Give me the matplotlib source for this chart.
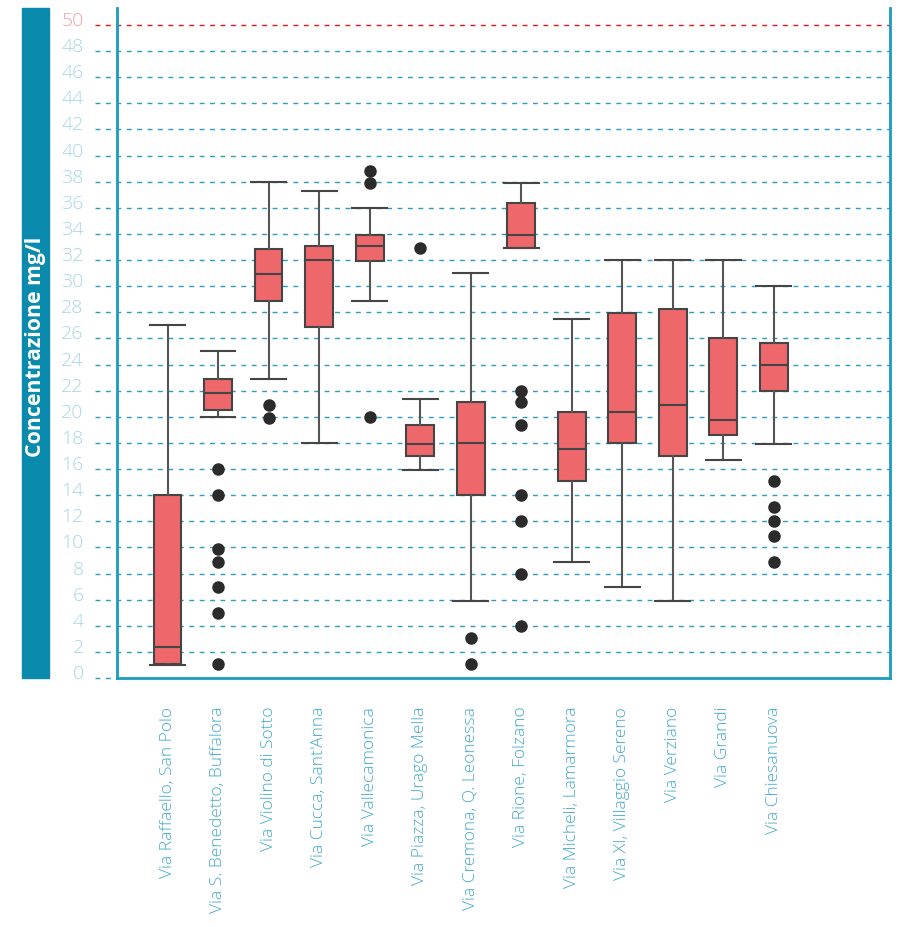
import matplotlib
matplotlib.use("Agg")
import matplotlib.pyplot as plt
from matplotlib.patches import Rectangle

plt.rcParams['font.family'] = ['Open Sans', 'DejaVu Sans']

streets = [
    "Via Raffaello, San Polo",
    "Via S. Benedetto, Buffalora",
    "Via Violino di Sotto",
    "Via Cucca, Sant'Anna",
    "Via Vallecamonica",
    "Via Piazza, Urago Mella",
    "Via Cremona, Q. Leonessa",
    "Via Rione, Folzano",
    "Via Micheli, Lamarmora",
    "Via XI, Villaggio Sereno",
    "Via Verziano",
    "Via Grandi",
    "Via Chiesanuova",
]

# box statistics, mg/l
whisker_low = [1.0, 20.0, 22.9, 18.0, 28.9, 15.9, 5.9, 32.9, 8.9, 7.0, 5.9, 16.7, 17.9]
q1 = [1.05, 20.5, 28.9, 26.9, 31.95, 17.0, 14.0, 32.9, 15.05, 18.0, 17.0, 18.6, 21.95]
median = [2.4, 21.8, 30.9, 32.0, 33.05, 17.9, 18.0, 33.95, 17.5, 20.4, 20.9, 19.75, 23.95]
q3 = [14.0, 22.9, 32.85, 33.05, 33.95, 19.35, 21.1, 36.4, 20.4, 27.95, 28.25, 26.0, 25.65]
whisker_high = [27.0, 25.0, 38.0, 37.3, 36.0, 21.4, 31.0, 37.9, 27.5, 32.0, 32.0, 32.0, 30.0]
outliers = [
    [],
    [16.0, 14.0, 9.9, 8.9, 7.0, 5.0, 1.05],
    [20.9, 19.9],
    [],
    [38.8, 37.9, 20.0],
    [32.9],
    [3.1, 1.05],
    [22.0, 21.1, 19.35, 14.0, 12.0, 8.0, 4.0],
    [],
    [],
    [],
    [],
    [15.1, 13.1, 12.0, 10.85, 8.9],
]

ticks = list(range(0, 52, 2))
limit = 50

teal = '#0a8bad'
grid_teal = '#2a9cbd'
tick_teal = '#a6d6e4'
label_teal = '#44abc9'
box_red = '#ed676b'
limit_red = '#e8141e'

fig = plt.figure(figsize=(9.07, 9.28), dpi=100)
ax = fig.add_axes([117 / 907, 1 - 679 / 928, 773 / 907, 670 / 928])

stats = []
for i, name in enumerate(streets):
    stats.append(dict(label=name, whislo=whisker_low[i], q1=q1[i], med=median[i],
                      q3=q3[i], whishi=whisker_high[i], fliers=outliers[i]))

positions = list(range(1, len(streets) + 1))
ax.bxp(stats, positions=positions, widths=0.55, capwidths=0.69, patch_artist=True,
       boxprops=dict(facecolor=box_red, edgecolor='#454545', linewidth=1.5),
       medianprops=dict(color='#454545', linewidth=1.5),
       whiskerprops=dict(color='#555555', linewidth=1.5),
       capprops=dict(color='#454545', linewidth=1.5),
       flierprops=dict(marker='o', markerfacecolor='#2b2b2b', markeredgecolor='#2b2b2b',
                       markersize=8))

ax.set_xlim(0, 15.3)
ax.set_ylim(0, 51.3)

# dashed guide lines reaching out past the left spine
trans = ax.get_yaxis_transform()
for t in ticks:
    if t == 0:
        ax.plot([-0.028, 0], [t, t], transform=trans, clip_on=False, color=grid_teal,
                lw=1.0, dashes=(3.5, 4.0), zorder=0)
        continue
    c = limit_red if t == limit else grid_teal
    ax.plot([-0.028, 1], [t, t], transform=trans, clip_on=False, color=c,
            lw=1.0, dashes=(3.5, 4.0), zorder=0)

ax.set_yticks(ticks)
ax.set_yticklabels([str(t) for t in ticks])
ax.tick_params(axis='y', length=0, pad=24, labelsize=14, labelcolor=tick_teal)
for lab, t in zip(ax.get_yticklabels(), ticks):
    lab.set_va('baseline')
    lab.set_fontweight('light')
    if t == limit:
        lab.set_color('#f3a1a7')

ax.set_xticks(positions)
ax.set_xticklabels(streets, rotation=90, va='top', ha='center')
ax.tick_params(axis='x', length=0, pad=20, labelsize=12.5, labelcolor=label_teal)
for lab in ax.get_xticklabels():
    lab.set_fontweight('light')

for side in ['left', 'right', 'bottom']:
    ax.spines[side].set_color('#1b9cbf')
    ax.spines[side].set_linewidth(2)
ax.spines['top'].set_visible(False)

# title band on the left
fig.patches.append(Rectangle((22 / 907, 1 - 679 / 928), 27 / 907, 670 / 928,
                             transform=fig.transFigure, color=teal, zorder=0))
fig.text(36 / 907, 1 - 347 / 928, "Concentrazione mg/l", rotation=90, color='white',
         fontsize=15.3, fontweight='bold', ha='center', va='center')

fig.savefig("out.png", dpi=100)
